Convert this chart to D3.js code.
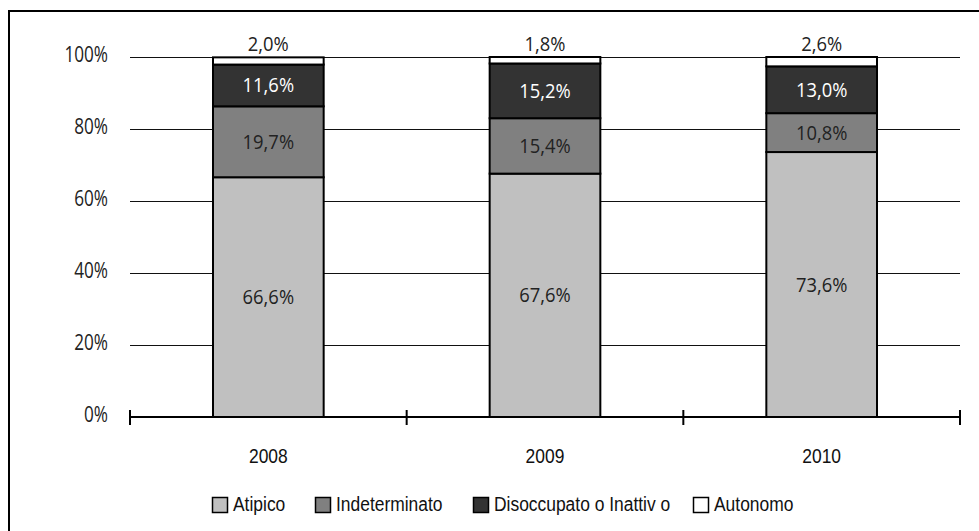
<!DOCTYPE html>
<html><head><meta charset="utf-8">
<script src="https://cdn.jsdelivr.net/npm/d3@7"></script>
<style>body{margin:0;background:#fff}svg{display:block}</style>
</head><body><svg id="c" width="979" height="531"></svg>
<script>
const years = ["2008", "2009", "2010"];
const seriesNames = ["Atipico", "Indeterminato", "Disoccupato o Inattiv o", "Autonomo"];
const atipico = [66.6, 67.6, 73.6];
const indeterminato = [19.7, 15.4, 10.8];
const disoccupato = [11.6, 15.2, 13.0];
const autonomo = [2.0, 1.8, 2.6];
const yTicks = [0, 20, 40, 60, 80, 100];
const colors = ["#c0c0c0", "#808080", "#333333", "#ffffff"];
const labelColors = ["#222", "#222", "#fff", "#222"];
const legendX = [212, 315, 473, 693];

const keys = ["a", "i", "d", "u"];
const rows = years.map((y, k) => ({year: y, a: atipico[k], i: indeterminato[k], d: disoccupato[k], u: autonomo[k]}));
const stacked = d3.stack().keys(keys)(rows);

const svg = d3.select("#c");
const valFont = "'Open Sans', sans-serif";
const narrowFont = "'Liberation Sans', Arial, sans-serif";

function stext(sel, tx, ty, sx, anchor, font, size, fill, txt) {
  return sel.append("text")
    .attr("transform", `translate(${tx},${ty}) scale(${sx},1)`)
    .attr("text-anchor", anchor)
    .style("font-family", font).style("font-size", size + "px")
    .attr("fill", fill).text(txt);
}

// outer frame (cut off at right/bottom)
svg.append("rect").attr("x", 9).attr("y", 11).attr("width", 1000).attr("height", 600)
  .attr("fill", "none").attr("stroke", "#000").attr("stroke-width", 2);

const x = d3.scaleBand().domain(years).range([130, 960]).paddingInner(0.6).paddingOuter(0.3);
const y = d3.scaleLinear().domain([0, 100]).range([417, 57]);

// gridlines
svg.append("g").selectAll("line").data(yTicks.filter(t => t > 0)).join("line")
  .attr("x1", 130).attr("x2", 960).attr("y1", d => y(d) + 0.5).attr("y2", d => y(d) + 0.5)
  .attr("stroke", "#111").attr("stroke-width", 1);

// y labels
const yl = svg.append("g");
yTicks.forEach(t => stext(yl, 108, y(t) + 5, 0.78, "end", valFont, 22, "#222", t + "%"));

// bars
const g = svg.append("g");
stacked.forEach((s, si) => {
  g.append("g").selectAll("rect").data(s).join("rect")
    .attr("x", d => x(d.data.year)).attr("width", x.bandwidth())
    .attr("y", d => y(d[1])).attr("height", d => y(d[0]) - y(d[1]))
    .attr("fill", colors[si]).attr("stroke", "#000").attr("stroke-width", 2);
});

// value labels
const fmt = v => v.toFixed(1).replace(".", ",") + "%";
const vl = svg.append("g");
stacked.forEach((s, si) => {
  s.forEach(d => {
    const cx = x(d.data.year) + x.bandwidth() / 2;
    const by = si === 3 ? y(100) - 6 : y((d[0] + d[1]) / 2) + 7;
    stext(vl, cx, by, 0.92, "middle", valFont, 20, labelColors[si], fmt(d[1] - d[0]));
  });
});

// x axis
const ax = svg.append("g");
ax.append("line").attr("x1", 130).attr("x2", 960).attr("y1", y(0)).attr("y2", y(0))
  .attr("stroke", "#000").attr("stroke-width", 2);
const bounds = years.map(yr => x(yr) - x.step() * x.paddingOuter()).concat([960]);
ax.selectAll("line.t").data(bounds).join("line").attr("class", "t")
  .attr("x1", d => d).attr("x2", d => d).attr("y1", y(0) - 7).attr("y2", y(0) + 8)
  .attr("stroke", "#000").attr("stroke-width", 2);
years.forEach(yr => stext(ax, x(yr) + x.bandwidth() / 2, 463, 0.83, "middle", narrowFont, 21, "#111", yr));

// legend
const leg = svg.append("g");
seriesNames.forEach((n, i) => {
  leg.append("rect").attr("x", legendX[i] + 0.5).attr("y", 497.5).attr("width", 15).attr("height", 15)
    .attr("fill", colors[i]).attr("stroke", "#000").attr("stroke-width", 1.5);
  stext(leg, legendX[i] + 21, 511, 0.83, "start", narrowFont, 21, "#111", n);
});
</script>
</body></html>
